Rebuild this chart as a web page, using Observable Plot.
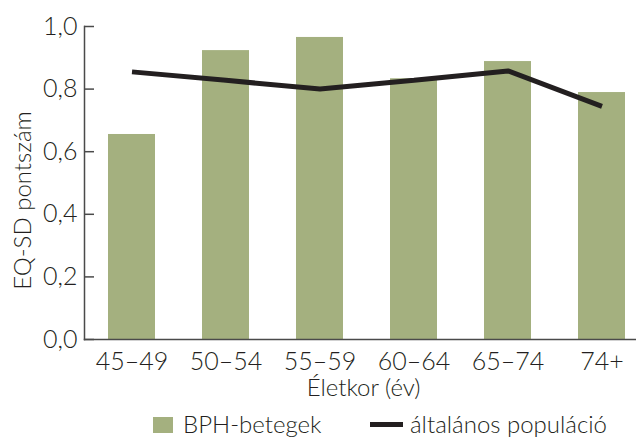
<!DOCTYPE html>
<html>
<head>
<meta charset="utf-8">
<script src="https://cdn.jsdelivr.net/npm/d3@7"></script>
<script src="https://cdn.jsdelivr.net/npm/@observablehq/plot@0.6"></script>
<style>
  html, body { margin: 0; padding: 0; background: #fff; }
  body { width: 636px; height: 438px; overflow: hidden; font-family: Lato, "Open Sans", sans-serif; font-weight: 300; color: #231f20; }
  #chart svg { display: block; }
  #legend { position: relative; width: 636px; height: 33px; font-size: 24px; }
  #legend .sw { position: absolute; }
  #legend .lb { position: absolute; line-height: 24px; white-space: nowrap; }
</style>
</head>
<body>
<div id="chart"></div>
<div id="legend"></div>
<script>
const ageGroups = ["45–49", "50–54", "55–59", "60–64", "65–74", "74+"];
const bphValues = [0.655, 0.923, 0.965, 0.833, 0.888, 0.789];
const populationValues = [0.855, 0.828, 0.800, 0.828, 0.858, 0.745];
const yTicks = [0, 0.2, 0.4, 0.6, 0.8, 1.0];
const seriesNames = ["BPH-betegek", "általános populáció"];
const xTitle = "Életkor (év)";
const yTitle = "EQ-SD pontszám";

const barColor = "#a4b07f";
const lineColor = "#231f20";
const axisColor = "#4a4a4a";

const rows = ageGroups.map((g, i) => ({group: g, bph: bphValues[i], pop: populationValues[i]}));
const fmt = d => d.toFixed(1).replace(".", ",");

const chart = Plot.plot({
  width: 636,
  height: 405,
  marginTop: 26,
  marginBottom: 66,
  marginLeft: 84,
  marginRight: 0,
  style: {fontFamily: "Lato, 'Open Sans', sans-serif", fontWeight: 300, fontSize: "24px", color: "#231f20", background: "#fff"},
  x: {domain: ageGroups, range: [84.5, 648.5], paddingInner: 0.5, paddingOuter: 0.25},
  y: {domain: [0, 1], range: [339, 26]},
  marks: [
    Plot.barY(rows, {x: "group", y: "bph", fill: barColor}),
    Plot.line(rows, {x: "group", y: "pop", stroke: lineColor, strokeWidth: 5, strokeLinejoin: "miter", strokeLinecap: "butt"}),
    Plot.frame({anchor: "left", stroke: axisColor, strokeWidth: 1.5}),
    Plot.frame({anchor: "bottom", stroke: axisColor, strokeWidth: 1.5}),
    Plot.axisY({ticks: yTicks, tickFormat: fmt, tickSize: 0, tickPadding: 7, label: null, fontSize: 25}),
    Plot.axisY({ticks: yTicks, text: null, tickSize: -10, label: null, stroke: axisColor, strokeWidth: 1.5}),
    Plot.axisX({tickSize: 0, tickPadding: 12.5, label: null, fontSize: 25}),
    Plot.text([xTitle], {frameAnchor: "bottom", textAnchor: "middle", lineAnchor: "middle", text: d => d, dx: 3, dy: 49, fontSize: 24}),
    Plot.text([yTitle], {frameAnchor: "left", textAnchor: "middle", lineAnchor: "middle", text: d => d, rotate: -90, dx: -61, dy: 17.5, fontSize: 24})
  ]
});
document.getElementById("chart").appendChild(chart);

const legend = document.getElementById("legend");
legend.innerHTML = `
  <div class="sw" style="left:153px; top:12px; width:20px; height:16px; background:${barColor}"></div>
  <div class="lb" style="left:183px; top:7px;">${seriesNames[0]}</div>
  <div class="sw" style="left:370px; top:17px; width:33px; height:5px; background:${lineColor}"></div>
  <div class="lb" style="left:410px; top:7px;">${seriesNames[1]}</div>
`;
</script>
</body>
</html>
